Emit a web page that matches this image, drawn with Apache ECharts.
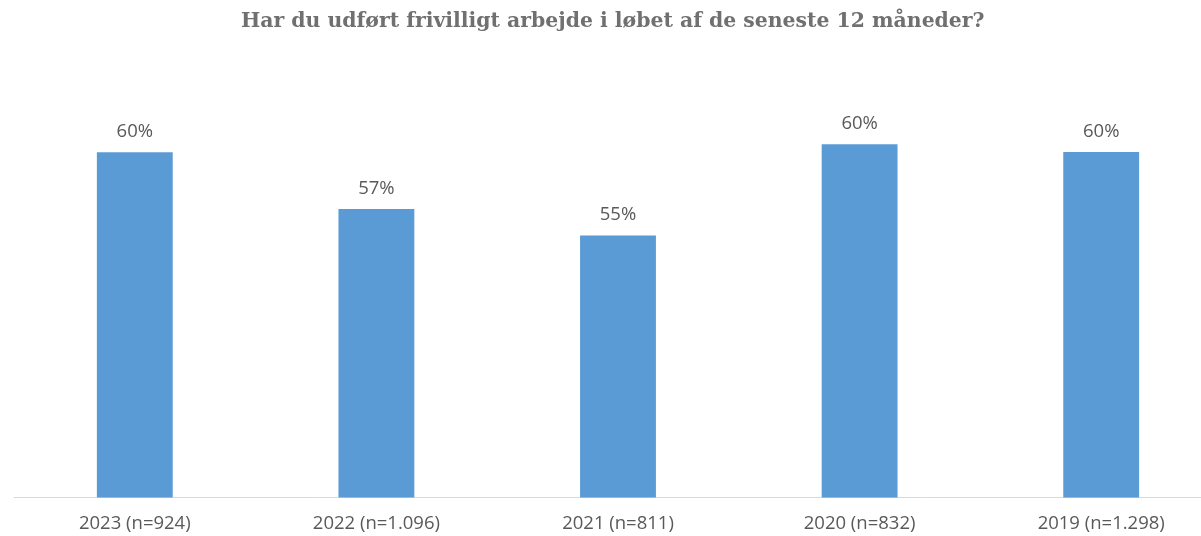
<!DOCTYPE html>
<html>
<head>
<meta charset="utf-8">
<script src="https://cdn.jsdelivr.net/npm/echarts@6/dist/echarts.min.js"></script>
<style>
html,body{margin:0;padding:0;background:#fff;overflow:hidden;width:1201px;height:536px;}
#chart{width:1222px;height:536px;}
</style>
</head>
<body>
<div id="chart"></div>
<script>
var titleText = 'Har du udført frivilligt arbejde i løbet af de seneste 12 måneder?';
var categories = ['2023 (n=924)', '2022 (n=1.096)', '2021 (n=811)', '2020 (n=832)', '2019 (n=1.298)'];
var values = [59.95, 56.68, 55.15, 60.42, 59.97];

var chart = echarts.init(document.getElementById('chart'));
chart.setOption({
  animation: false,
  backgroundColor: '#ffffff',
  title: {
    text: titleText,
    left: 241,
    top: 12,
    padding: 0,
    textStyle: {
      fontFamily: 'DejaVu Serif',
      fontWeight: 'bold',
      fontSize: 20.4,
      color: '#707070'
    }
  },
  grid: {
    left: 14,
    top: 82.3,
    right: 0,
    bottom: 38.5,
    containLabel: false
  },
  xAxis: {
    type: 'category',
    data: categories,
    axisLine: { show: true, lineStyle: { color: '#d9d9d9', width: 1 } },
    axisTick: { show: false },
    axisLabel: {
      fontFamily: 'Open Sans',
      fontSize: 18.5,
      color: '#595959',
      margin: 17
    }
  },
  yAxis: {
    type: 'value',
    min: 40,
    max: 64,
    show: false,
    splitLine: { show: false }
  },
  series: [{
    type: 'bar',
    data: values,
    barWidth: '31.4%',
    itemStyle: { color: '#5b9bd5' },
    label: {
      show: true,
      position: 'top',
      distance: 11,
      fontFamily: 'Open Sans',
      fontSize: 18.5,
      color: '#595959',
      formatter: function (p) { return Math.round(p.value) + '%'; }
    }
  }]
});
</script>
</body>
</html>
